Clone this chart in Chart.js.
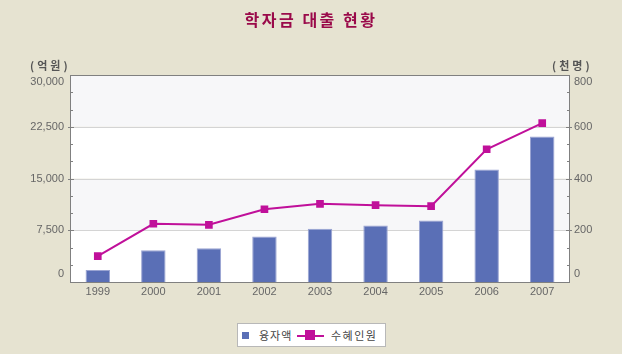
<!DOCTYPE html>
<html>
<head>
<meta charset="utf-8">
<script src="https://cdn.jsdelivr.net/npm/chart.js@4/dist/chart.umd.min.js"></script>
<style>
  html, body { margin: 0; padding: 0; background: #E6E3D1; }
  #wrap { position: relative; width: 622px; height: 354px; background: #E6E3D1; overflow: hidden; }
  #c { display: block; }
  #title { position: absolute; left: 0; width: 622px; top: 7px; text-align: center;
           font: bold 16px "Noto Sans CJK KR", sans-serif; color: #9A0A4A; letter-spacing: 2.5px; }
  .unit { position: absolute; top: 57px; font: bold 11px "Noto Sans CJK KR", sans-serif; color: #555; letter-spacing: 3px; }
  #legend { position: absolute; left: 237px; top: 323px; width: 147px; height: 22px; background: #fff;
            border: 1px solid #B8B8B8; font: 11px "Noto Sans CJK KR", sans-serif; color: #444; }
  #legend span { position: absolute; }
</style>
</head>
<body>
<div id="wrap">
  <canvas id="c" width="622" height="354"></canvas>
  <div id="title">학자금 대출 현황</div>
  <div class="unit" style="left:30px">(억원)</div>
  <div class="unit" style="left:552px">(천명)</div>
  <div id="legend">
    <span style="left:4px;top:8px;width:7px;height:7px;background:#5A6FB6"></span>
    <span id="lg1" style="left:21px;top:3px;letter-spacing:1px">융자액</span>
    <span style="left:59px;top:11px;width:27px;height:2px;background:#C0109A"></span>
    <span style="left:67px;top:6px;width:10px;height:10px;background:#C0109A"></span>
    <span id="lg2" style="left:93px;top:3px;letter-spacing:1.5px">수혜인원</span>
  </div>
</div>
<script>
const years = ['1999','2000','2001','2002','2003','2004','2005','2006','2007'];
const loanAmount = [1750, 4600, 4900, 6600, 7700, 8200, 8900, 16300, 21100];
const recipients = [100, 225, 221, 281, 302, 297, 293, 513, 614];
const leftTicks = [0, 7500, 15000, 22500, 30000];
const rightTicks = [0, 200, 400, 600, 800];
const seriesNames = ['융자액', '수혜인원'];

const fmt = v => v.toLocaleString('en-US');

const decor = {
  id: 'decor',
  beforeDatasetsDraw(chart) {
    const {ctx, chartArea: a, scales: {y}} = chart;
    ctx.save();
    for (let i = 0; i < leftTicks.length - 1; i++) {
      const top = y.getPixelForValue(leftTicks[i + 1]);
      const bot = y.getPixelForValue(leftTicks[i]);
      ctx.fillStyle = (i % 2 === 1) ? '#F7F7F9' : '#FFFFFF';
      ctx.fillRect(a.left, top, a.right - a.left, bot - top);
    }
    ctx.strokeStyle = '#D4D4D4';
    ctx.lineWidth = 1;
    for (const v of leftTicks.slice(1, -1)) {
      const py = Math.round(y.getPixelForValue(v)) + 0.5;
      ctx.beginPath(); ctx.moveTo(a.left, py); ctx.lineTo(a.right, py); ctx.stroke();
    }
    ctx.restore();
  },
  afterDraw(chart) {
    const {ctx, chartArea: a, scales: {y, y1}} = chart;
    ctx.save();
    ctx.strokeStyle = '#808080';
    ctx.lineWidth = 1;
    ctx.strokeRect(Math.round(a.left) + 0.5, Math.round(a.top) + 0.5,
                   Math.round(a.right - a.left) - 1, Math.round(a.bottom - a.top));
    for (let i = 0; i < leftTicks.length - 1; i++) {
      const p0 = y.getPixelForValue(leftTicks[i]);
      const p1 = y.getPixelForValue(leftTicks[i + 1]);
      for (let k = 1; k < 3; k++) {
        const py = Math.round(p0 + (p1 - p0) * k / 3) + 0.5;
        ctx.beginPath(); ctx.moveTo(a.left, py); ctx.lineTo(a.left + 3, py); ctx.stroke();
        ctx.beginPath(); ctx.moveTo(a.right - 3, py); ctx.lineTo(a.right, py); ctx.stroke();
      }
    }
    ctx.font = '11px "Liberation Sans", Arial, sans-serif';
    ctx.fillStyle = '#666';
    ctx.textBaseline = 'middle';
    leftTicks.forEach(v => {
      const p = y.getPixelForValue(v);
      const py = Math.round(p) + 0.5;
      if (v !== 0 && v !== 30000) {
        ctx.beginPath(); ctx.moveTo(a.left - 2, py); ctx.lineTo(a.left + 4, py); ctx.stroke();
      }
      const ly = Math.min(Math.max(p, a.top + 7), a.bottom - 8);
      ctx.textAlign = 'right';
      ctx.fillText(fmt(v), a.left - 6, ly);
    });
    rightTicks.forEach(v => {
      const p = y1.getPixelForValue(v);
      const py = Math.round(p) + 0.5;
      if (v !== 0 && v !== 800) {
        ctx.beginPath(); ctx.moveTo(a.right - 4, py); ctx.lineTo(a.right + 2, py); ctx.stroke();
      }
      const ly = Math.min(Math.max(p, a.top + 7), a.bottom - 8);
      ctx.textAlign = 'left';
      ctx.fillText(fmt(v), a.right + 4, ly);
    });
    ctx.restore();
  }
};

new Chart(document.getElementById('c'), {
  data: {
    labels: years,
    datasets: [
      { type: 'line', label: seriesNames[1], data: recipients, yAxisID: 'y1', order: 0,
        borderColor: '#C0109A', backgroundColor: '#C0109A', borderWidth: 2,
        pointStyle: 'rect', pointRadius: 4, pointHoverRadius: 4, tension: 0 },
      { type: 'bar', label: seriesNames[0], data: loanAmount, yAxisID: 'y', order: 1,
        backgroundColor: '#5A6FB6', borderColor: '#9AA4D2', borderWidth: 1,
        barPercentage: 0.88, categoryPercentage: 0.5 }
    ]
  },
  options: {
    responsive: false,
    animation: false,
    layout: { padding: { top: 75, left: 0, right: 0, bottom: 0 } },
    plugins: { legend: { display: false }, title: { display: false }, tooltip: { enabled: false } },
    scales: {
      x: {
        grid: { display: false, drawTicks: false },
        border: { display: false },
        ticks: { color: '#666', font: { family: '"Liberation Sans", Arial, sans-serif', size: 11 }, padding: 3 },
        afterFit: s => { s.height = 72; }
      },
      y: {
        position: 'left', min: 0, max: 30000,
        ticks: { stepSize: 7500, display: false },
        grid: { display: false },
        border: { display: false },
        afterFit: s => { s.width = 70; }
      },
      y1: {
        position: 'right', min: 0, max: 800,
        ticks: { stepSize: 200, display: false },
        grid: { display: false },
        border: { display: false },
        afterFit: s => { s.width = 52; }
      }
    }
  },
  plugins: [decor]
});
</script>
</body>
</html>
